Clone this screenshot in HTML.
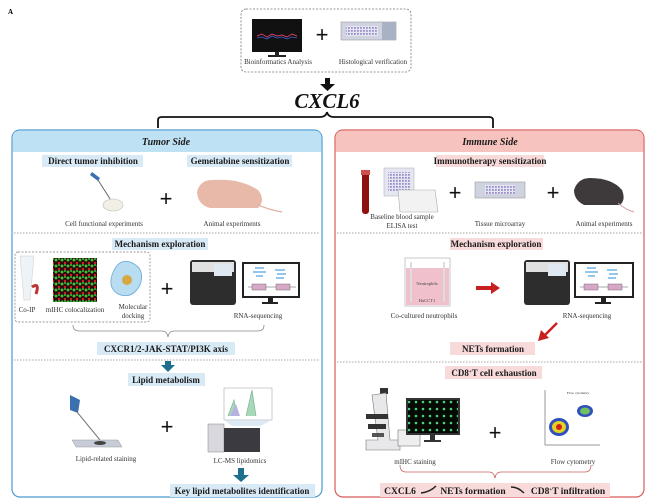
<!DOCTYPE html>
<html><head><meta charset="utf-8"><style>
html,body{margin:0;padding:0;background:#fff;}
svg{display:block;}
text{font-family:"Liberation Serif",serif;}
.c{font-size:7px;fill:#333;text-anchor:middle;}
.l{font-size:9px;font-weight:bold;fill:#1a1a1a;text-anchor:middle;}
.p{font-size:22px;fill:#111;text-anchor:middle;font-weight:bold;}
.pl{font-family:"Liberation Sans",sans-serif;font-size:22px;fill:#111;text-anchor:middle;}
</style></head><body>
<svg width="650" height="504" viewBox="0 0 650 504" xmlns="http://www.w3.org/2000/svg">
<defs>
<pattern id="dots" width="6" height="6" patternUnits="userSpaceOnUse">
<rect width="6" height="6" fill="#2a0a0a"/><circle cx="2" cy="2" r="1.5" fill="#3ec23e"/><circle cx="5" cy="5" r="1.2" fill="#d02020"/><circle cx="5" cy="1" r="1" fill="#3ec23e"/>
</pattern>
<pattern id="gdots" width="7" height="7" patternUnits="userSpaceOnUse">
<rect width="7" height="7" fill="#050a05"/><circle cx="3" cy="3" r="1.3" fill="#4cd07c"/>
</pattern>
<pattern id="grid" width="3" height="3" patternUnits="userSpaceOnUse">
<rect width="3" height="3" fill="#e4e6f2"/><rect width="1.8" height="1.8" fill="#9b8fc9"/>
</pattern>
</defs>
<text x="8" y="14" style="font-size:7px;font-weight:bold">A</text>

<!-- top box -->
<rect x="241" y="9" width="170" height="63" rx="5" fill="none" stroke="#777" stroke-dasharray="2,1.5" stroke-width="0.8"/>
<rect x="252" y="19" width="50" height="33" fill="#111"/>
<path d="M257 36 L262 34 L267 37 L272 34 L277 36 L282 35 L287 37 L292 34 L297 36" stroke="#d04060" fill="none" stroke-width="1"/>
<path d="M257 38 L262 37 L267 39 L272 36 L277 38 L282 37 L287 39 L292 37 L297 38" stroke="#4060d0" fill="none" stroke-width="0.8"/>
<rect x="275" y="52" width="4" height="4" fill="#222"/><rect x="268" y="55" width="18" height="2" fill="#222"/>
<text x="322" y="42" class="pl">+</text>
<rect x="341" y="22" width="55" height="18" fill="#cfd3e0" stroke="#999" stroke-width="0.6"/>
<rect x="346" y="26" width="32" height="10" fill="url(#grid)"/>
<rect x="382" y="22" width="14" height="18" fill="#a9b1c4"/>
<text x="278" y="64" class="c">Bioinformatics Analysis</text>
<text x="373" y="64" class="c">Histological verification</text>
<!-- arrow -->
<rect x="325" y="78" width="5" height="7" fill="#111"/><path d="M320 84 L335 84 L327.5 91 Z" fill="#111"/>
<text x="327" y="108" class="p" style="font-style:italic;font-size:21px">CXCL6</text>
<!-- brace -->
<path d="M158 128 L158 120 Q158 117 162 117 L320 117 Q326 117 327 112 Q328 117 334 117 L489 117 Q493 117 493 120 L493 128" fill="none" stroke="#111" stroke-width="1.8"/>

<!-- left panel -->
<rect x="12" y="130" width="310" height="367" rx="8" fill="#fff" stroke="#4a9bd4" stroke-width="1.2"/>
<path d="M12.6 152 L12.6 138 Q12.6 130.6 20 130.6 L314 130.6 Q321.4 130.6 321.4 138 L321.4 152 Z" fill="#bfe1f4"/>
<text x="166" y="145" class="l" style="font-size:10px;font-style:italic">Tumor Side</text>
<!-- right panel -->
<rect x="335" y="130" width="309" height="367" rx="8" fill="#fff" stroke="#d95b5b" stroke-width="1.2"/>
<path d="M335.6 152 L335.6 138 Q335.6 130.6 343 130.6 L636 130.6 Q643.4 130.6 643.4 138 L643.4 152 Z" fill="#f6c3be"/>
<text x="490" y="145" class="l" style="font-size:10px;font-style:italic">Immune Side</text>

<!-- left row1 -->
<rect x="42" y="155" width="101" height="12" fill="#d9eaf7"/><text x="93" y="164" class="l">Direct tumor inhibition</text>
<rect x="187" y="155" width="105" height="12" fill="#d9eaf7"/><text x="240" y="164" class="l">Gemeitabine sensitization</text>
<path d="M92 172 L100 178 L98 181 L90 175 Z" fill="#3a6fb0"/><line x1="98" y1="180" x2="112" y2="202" stroke="#666" stroke-width="1"/>
<ellipse cx="113" cy="205" rx="10" ry="6" fill="#f1efe6" stroke="#bbb" stroke-width="0.6"/>
<text x="166" y="206" class="pl">+</text>
<path d="M197 192 Q200 180 212 180 Q240 178 258 190 Q266 200 258 208 L210 208 Q198 205 197 192 Z" fill="#e8b8a8"/>
<path d="M258 205 Q270 210 282 212" stroke="#e0a898" fill="none" stroke-width="1.2"/>
<text x="104" y="226" class="c">Cell functional experiments</text>
<text x="232" y="226" class="c">Animal experiments</text>

<!-- right row1 -->
<rect x="436" y="155" width="108" height="12" fill="#f8dada"/><text x="490" y="164" class="l">Immunotherapy sensitization</text>
<rect x="362" y="172" width="7" height="42" rx="3" fill="#8e1010"/><rect x="361" y="170" width="9" height="5" fill="#d05050"/>
<rect x="384" y="168" width="30" height="28" fill="#e4e6f2" stroke="#aaa" stroke-width="0.5"/><rect x="388" y="172" width="22" height="20" fill="url(#grid)"/>
<path d="M398 190 L435 190 L438 212 L400 212 Z" fill="#f2f2f2" stroke="#aaa" stroke-width="0.6"/>
<text x="455" y="200" class="pl">+</text>
<rect x="475" y="182" width="50" height="16" fill="#cfd3e0" stroke="#999" stroke-width="0.6"/><rect x="485" y="185" width="30" height="9" fill="url(#grid)"/>
<text x="553" y="200" class="pl">+</text>
<path d="M574 190 Q578 178 590 178 Q612 178 622 190 Q626 200 620 205 L584 205 Q574 200 574 190 Z" fill="#3e3a3c"/>
<path d="M618 203 Q626 210 634 212" stroke="#d4a0a0" fill="none" stroke-width="1"/>
<text x="402" y="219" class="c">Baseline blood sample</text>
<text x="402" y="228" class="c">ELISA test</text>
<text x="500" y="226" class="c">Tissue microarray</text>
<text x="604" y="226" class="c">Animal experiments</text>

<line x1="14" y1="233" x2="320" y2="233" stroke="#888" stroke-dasharray="1.5,1.5" stroke-width="0.7"/>
<line x1="337" y1="233" x2="642" y2="233" stroke="#888" stroke-dasharray="1.5,1.5" stroke-width="0.7"/>

<!-- left mechanism -->
<rect x="112" y="238" width="96" height="12" fill="#d9eaf7"/><text x="160" y="247" class="l">Mechanism exploration</text>
<rect x="15" y="252" width="135" height="70" rx="3" fill="none" stroke="#777" stroke-dasharray="2,1.5" stroke-width="0.7"/>
<path d="M20 256 L34 256 L30 300 L24 300 Z" fill="#eef3f7" stroke="#ccc" stroke-width="0.5"/>
<path d="M32 287 Q40 282 36 294" stroke="#c03030" stroke-width="3" fill="none"/>
<rect x="53" y="258" width="44" height="44" fill="url(#dots)"/>
<path d="M112 275 Q118 258 130 262 Q146 268 140 285 Q132 300 118 294 Q108 288 112 275 Z" fill="#b8dcf0" stroke="#6aa8d8" stroke-width="0.8"/>
<circle cx="127" cy="280" r="5" fill="#d8a840"/>
<text x="27" y="312" class="c">Co-IP</text>
<text x="75" y="312" class="c">mIHC colocalization</text>
<text x="133" y="309" class="c">Molecular</text><text x="133" y="318" class="c">docking</text>
<text x="167" y="296" class="pl">+</text>
<rect x="190" y="260" width="46" height="45" rx="3" fill="#2d2d2d"/><rect x="192" y="262" width="42" height="10" fill="#e0e0e0"/><rect x="214" y="264" width="18" height="12" fill="#dfe8f0"/>
<rect x="242" y="262" width="58" height="36" fill="#222"/><rect x="244" y="264" width="54" height="32" fill="#fff"/>
<g stroke="#4aa0dc" stroke-width="1.2"><line x1="255" y1="268" x2="264" y2="268"/><line x1="253" y1="272" x2="266" y2="272"/><line x1="256" y1="276" x2="263" y2="276"/><line x1="275" y1="270" x2="285" y2="270"/><line x1="277" y1="274" x2="286" y2="274"/><line x1="276" y1="278" x2="284" y2="278"/></g>
<line x1="248" y1="287" x2="296" y2="287" stroke="#555" stroke-width="0.6"/>
<rect x="252" y="284" width="14" height="6" fill="#d8a8c8" stroke="#555" stroke-width="0.4"/><rect x="276" y="284" width="14" height="6" fill="#d8a8c8" stroke="#555" stroke-width="0.4"/>
<rect x="268" y="298" width="5" height="5" fill="#222"/><rect x="262" y="302" width="16" height="2" fill="#222"/>
<text x="258" y="318" class="c">RNA-sequencing</text>
<path d="M73 325 Q73 331 79 331 L162 331 Q167 331 168 337 Q169 331 174 331 L258 331 Q264 331 264 325" fill="none" stroke="#888" stroke-width="0.8"/>
<rect x="97" y="342" width="138" height="13" fill="#d9eaf7"/><text x="166" y="352" class="l">CXCR1/2-JAK-STAT/PI3K  axis</text>
<line x1="14" y1="360" x2="320" y2="360" stroke="#888" stroke-dasharray="1.5,1.5" stroke-width="0.7"/>
<rect x="165" y="361" width="6" height="5" fill="#1e6f8e"/><path d="M161 365 L175 365 L168 372 Z" fill="#1e6f8e"/>
<rect x="128" y="373" width="77" height="13" fill="#d9eaf7"/><text x="166" y="383" class="l">Lipid metabolism</text>
<path d="M70 395 L80 400 L78 413 L70 410 Z" fill="#3a6fb0"/><line x1="77" y1="412" x2="100" y2="440" stroke="#777" stroke-width="1"/>
<path d="M72 440 L118 440 L122 447 L76 447 Z" fill="#c8ccd8" stroke="#999" stroke-width="0.5"/><ellipse cx="100" cy="443" rx="6" ry="2" fill="#444"/>
<text x="106" y="461" class="c">Lipid-related staining</text>
<text x="167" y="434" class="pl">+</text>
<rect x="224" y="388" width="48" height="32" fill="#fff" stroke="#999" stroke-width="0.5"/>
<path d="M228 416 L234 400 L237 416 M246 416 L252 390 L256 416" fill="#a8d8b8" stroke="#70b090" stroke-width="0.6"/>
<path d="M230 416 L236 404 L240 416" fill="#b8b0e0"/>
<path d="M224 420 L272 420 L260 426 L232 426 Z" fill="#cfe0ef" opacity="0.7"/>
<rect x="208" y="424" width="16" height="28" fill="#d8d8de" stroke="#888" stroke-width="0.5"/><rect x="224" y="428" width="36" height="24" fill="#3a3a40"/>
<text x="240" y="463" class="c">LC-MS lipidomics</text>
<rect x="238" y="468" width="6" height="8" fill="#1e6f8e"/><path d="M233 475 L249 475 L241 482 Z" fill="#1e6f8e"/>
<rect x="170" y="484" width="145" height="13" fill="#d9eaf7"/><text x="242" y="494" class="l">Key lipid metabolites identification</text>

<!-- right mechanism -->
<rect x="450" y="238" width="93" height="12" fill="#f8dada"/><text x="496" y="247" class="l">Mechanism exploration</text>
<rect x="405" y="258" width="45" height="48" fill="#fff" stroke="#bbb" stroke-width="0.8"/>
<rect x="406" y="268" width="43" height="37" fill="#f0c0cc"/>
<rect x="410" y="262" width="2" height="40" fill="#ddd"/><rect x="443" y="262" width="2" height="40" fill="#ddd"/>
<text x="427" y="285" style="font-size:4.5px;fill:#444;text-anchor:middle">Neutrophils</text>
<text x="427" y="302" style="font-size:4.5px;fill:#444;text-anchor:middle">HuCCT1</text>
<text x="424" y="318" class="c">Co-cultured neutrophils</text>
<rect x="476" y="286" width="16" height="4" fill="#c82020"/><path d="M491 282 L500 288 L491 294 Z" fill="#c82020"/>
<rect x="524" y="260" width="46" height="45" rx="3" fill="#2d2d2d"/><rect x="526" y="262" width="42" height="10" fill="#e0e0e0"/><rect x="548" y="264" width="18" height="12" fill="#dfe8f0"/>
<rect x="574" y="262" width="60" height="36" fill="#222"/><rect x="576" y="264" width="56" height="32" fill="#fff"/>
<g stroke="#4aa0dc" stroke-width="1.2"><line x1="587" y1="268" x2="596" y2="268"/><line x1="585" y1="272" x2="598" y2="272"/><line x1="588" y1="276" x2="595" y2="276"/><line x1="607" y1="270" x2="617" y2="270"/><line x1="609" y1="274" x2="618" y2="274"/><line x1="608" y1="278" x2="616" y2="278"/></g>
<line x1="580" y1="287" x2="628" y2="287" stroke="#555" stroke-width="0.6"/>
<rect x="584" y="284" width="14" height="6" fill="#d8a8c8" stroke="#555" stroke-width="0.4"/><rect x="608" y="284" width="14" height="6" fill="#d8a8c8" stroke="#555" stroke-width="0.4"/>
<rect x="601" y="298" width="5" height="5" fill="#222"/><rect x="595" y="302" width="16" height="2" fill="#222"/>
<text x="587" y="318" class="c">RNA-sequencing</text>
<line x1="557" y1="323" x2="545" y2="335" stroke="#c82020" stroke-width="2.5"/><path d="M538 341 L541 330 L549 338 Z" fill="#c82020"/>
<rect x="450" y="342" width="85" height="13" fill="#f8dada"/><text x="493" y="352" class="l">NETs formation</text>
<line x1="337" y1="362" x2="642" y2="362" stroke="#888" stroke-dasharray="1.5,1.5" stroke-width="0.7"/>
<rect x="445" y="366" width="97" height="13" fill="#f8dada"/><text x="494" y="376" class="l">CD8<tspan dy="-3" style="font-size:5px">+</tspan><tspan dy="3">T cell exhaustion</tspan></text>
<!-- microscope -->
<rect x="380" y="388" width="8" height="6" fill="#333"/>
<path d="M372 395 L386 393 L390 440 L400 440 L400 450 L366 450 L366 440 L378 440 Z" fill="#e8e8ea" stroke="#777" stroke-width="0.6"/>
<rect x="366" y="414" width="22" height="5" fill="#333"/><rect x="368" y="424" width="18" height="5" fill="#333"/><rect x="372" y="433" width="12" height="4" fill="#555"/>
<rect x="398" y="430" width="22" height="16" fill="#eee" stroke="#777" stroke-width="0.6"/>
<rect x="406" y="398" width="54" height="37" fill="#333"/><rect x="408" y="400" width="50" height="33" fill="url(#gdots)"/>
<rect x="430" y="435" width="5" height="6" fill="#333"/><rect x="424" y="440" width="17" height="2" fill="#333"/>
<text x="415" y="464" class="c">mIHC staining</text>
<text x="495" y="440" class="pl">+</text>
<!-- flow -->
<line x1="545" y1="390" x2="545" y2="445" stroke="#333" stroke-width="0.5"/><line x1="545" y1="445" x2="600" y2="445" stroke="#333" stroke-width="0.5"/>
<text x="578" y="394" style="font-size:3.5px;fill:#333;text-anchor:middle">Flow cytometry</text>
<ellipse cx="559" cy="427" rx="10" ry="9" fill="#3050c0"/><ellipse cx="559" cy="427" rx="7" ry="6" fill="#e8d020"/><ellipse cx="559" cy="427" rx="3" ry="3" fill="#d02020"/>
<ellipse cx="585" cy="411" rx="8" ry="6" fill="#3050c0"/><ellipse cx="585" cy="411" rx="5" ry="3.5" fill="#70c060"/>
<text x="573" y="464" class="c">Flow cytometry</text>
<path d="M400 465 Q400 472 406 472 L489 472 Q494 472 495 478 Q496 472 501 472 L585 472 Q591 472 591 465" fill="none" stroke="#c86060" stroke-width="0.8"/>
<rect x="380" y="483" width="230" height="14" fill="#f8dada"/>
<text x="400" y="494" class="l" style="font-size:9.5px">CXCL6</text>
<path d="M421 493 Q430 492 436 486" stroke="#222" stroke-width="1.5" fill="none"/>
<text x="473" y="494" class="l" style="font-size:9.5px">NETs formation</text>
<path d="M511 487 Q518 487 524 493" stroke="#222" stroke-width="1.5" fill="none"/>
<text x="568" y="494" class="l" style="font-size:9.5px">CD8<tspan dy="-3" style="font-size:5px">+</tspan><tspan dy="3">T infiltration</tspan></text>
</svg>
</body></html>
